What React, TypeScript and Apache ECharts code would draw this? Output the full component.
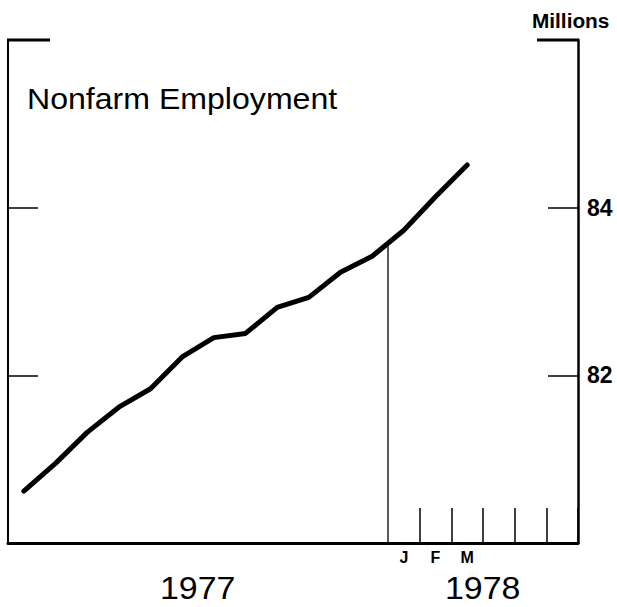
import React, { useEffect, useRef } from "react";
import * as echarts from "echarts";

// Months on the x axis: Jan 1977 .. Jun 1978
const months = [
  "1977-01", "1977-02", "1977-03", "1977-04", "1977-05", "1977-06",
  "1977-07", "1977-08", "1977-09", "1977-10", "1977-11", "1977-12",
  "1978-01", "1978-02", "1978-03", "1978-04", "1978-05", "1978-06",
];
const monthLabels = ["", "", "", "", "", "", "", "", "", "", "", "", "J", "F", "M", "", "", ""];

// Nonfarm employment, millions (Jan 1977 .. Mar 1978)
const employment = [
  80.62, 80.95, 81.32, 81.62, 81.84, 82.22, 82.45, 82.5, 82.81, 82.93,
  83.23, 83.42, 83.73, 84.13, 84.51,
];

const yMin = 80;
const yMax = 86;
const yInterval = 2;
const yearLabels = ["1977", "1978"];
const titleText = "Nonfarm Employment";
const unitText = "Millions";

const FONT = '"Liberation Sans", Arial, Helvetica, sans-serif';

export default function App() {
  const ref = useRef<HTMLDivElement>(null);

  useEffect(() => {
    if (!ref.current) return;
    const chart = echarts.init(ref.current, null, { renderer: "svg" });
    const splitIndex = 12; // boundary between Dec 1977 and Jan 1978
    const joinValue = (employment[splitIndex - 1] + employment[splitIndex]) / 2;

    const yearText = (text: string, x: number) => ({
      type: "text",
      x,
      y: 588,
      scaleX: 1.06,
      style: {
        text,
        fill: "#000",
        fontFamily: FONT,
        fontSize: 32,
        textAlign: "left",
        textVerticalAlign: "middle",
        verticalAlign: "middle",
      },
    });

    chart.setOption({
      animation: false,
      backgroundColor: "#fff",
      textStyle: { fontFamily: FONT },
      grid: { left: 8, right: 39, top: 40, bottom: 64, containLabel: false, outerBoundsMode: "none" },
      xAxis: [
        {
          type: "category",
          data: months,
          boundaryGap: true,
          position: "bottom",
          axisLine: { show: true, lineStyle: { color: "#000", width: 3 } },
          axisTick: {
            show: true,
            inside: true,
            length: 35,
            interval: (i: number) => i >= 13,
            lineStyle: { color: "#000", width: 1.5 },
          },
          axisLabel: {
            interval: 0,
            formatter: (_v: string, i: number) => monthLabels[i],
            color: "#000",
            fontFamily: FONT,
            fontWeight: "bold",
            fontSize: 16,
            margin: 6,
          },
          splitLine: { show: false },
        },
        { type: "value", min: 0, max: months.length, show: false },
      ],
      yAxis: [
        {
          type: "value",
          position: "left",
          min: yMin,
          max: yMax,
          interval: yInterval,
          axisLine: { show: true, lineStyle: { color: "#000", width: 2 } },
          axisTick: { show: true, inside: true, length: 30, lineStyle: { color: "#000", width: 1.5 } },
          axisLabel: { show: false },
          splitLine: { show: false },
        },
        {
          type: "value",
          position: "right",
          min: yMin,
          max: yMax,
          interval: yInterval,
          axisLine: { show: true, lineStyle: { color: "#000", width: 2.5 } },
          axisTick: { show: true, inside: true, length: 30, lineStyle: { color: "#000", width: 1.5 } },
          axisLabel: {
            show: true,
            showMinLabel: false,
            showMaxLabel: false,
            margin: 9,
            color: "#000",
            fontFamily: FONT,
            fontWeight: "bold",
            fontSize: 23,
          },
          splitLine: { show: false },
        },
      ],
      series: [
        {
          type: "line",
          xAxisIndex: 0,
          yAxisIndex: 0,
          data: employment,
          symbol: "none",
          lineStyle: { color: "#000", width: 5, cap: "round", join: "round" },
          silent: true,
        },
        {
          type: "line",
          xAxisIndex: 1,
          yAxisIndex: 0,
          data: [
            [splitIndex, joinValue],
            [splitIndex, yMin],
          ],
          symbol: "none",
          lineStyle: { color: "#000", width: 1.3 },
          silent: true,
        },
      ],
      graphic: [
        { type: "line", shape: { x1: 7, y1: 40, x2: 50, y2: 40 }, style: { stroke: "#000", lineWidth: 3 } },
        { type: "line", shape: { x1: 537, y1: 40, x2: 579, y2: 40 }, style: { stroke: "#000", lineWidth: 3 } },
        {
          type: "text",
          x: 27,
          y: 98.5,
          scaleX: 1.07,
          style: {
            text: titleText,
            fill: "#000",
            fontFamily: FONT,
            fontSize: 30,
            textAlign: "left",
            textVerticalAlign: "middle",
            verticalAlign: "middle",
          },
        },
        {
          type: "text",
          x: 532,
          y: 21,
          scaleX: 1.04,
          style: {
            text: unitText,
            fill: "#000",
            fontFamily: FONT,
            fontWeight: "bold",
            fontSize: 20,
            textAlign: "left",
            textVerticalAlign: "middle",
            verticalAlign: "middle",
          },
        },
        yearText(yearLabels[0], 160),
        yearText(yearLabels[1], 445),
      ],
    });

    return () => chart.dispose();
  }, []);

  return (
    <div
      ref={ref}
      style={{ position: "fixed", left: 0, top: 0, width: 617, height: 607, background: "#fff" }}
    />
  );
}
